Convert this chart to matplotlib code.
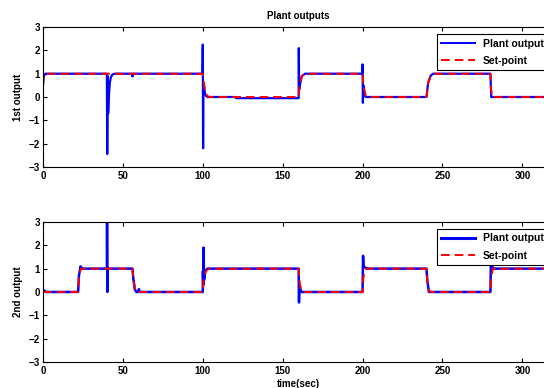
import matplotlib
matplotlib.use("Agg")
import matplotlib.pyplot as plt

# ---- data (breakpoints of each trace) ----
# 1st output: set-point
sp1_t = [0, 0.5, 1.5, 100, 100.5, 101.5, 103, 105, 160, 160.5, 162, 164,
         200, 200.5, 202, 203, 240, 241, 242.5, 244, 280, 280.5, 281, 320]
sp1_v = [0.5, 0.9, 1.0, 1.0, 0.7, 0.2, 0.03, 0.0, 0.0, 0.5, 0.9, 1.0,
         1.0, 0.5, 0.05, 0.0, 0.0, 0.6, 0.9, 1.0, 1.0, 0.3, 0.0, 0.0]

# 1st output: plant output
y1_t = [0, 0.5, 1.5, 40, 40.2, 40.5, 40.8, 41.2, 41.8, 42.5, 43.5, 45,
        55.7, 56, 56.4, 99.8, 100, 100.2, 100.4, 100.8, 101.2, 102, 103,
        120, 121, 160, 160.1, 160.3, 161, 162, 164, 199.8, 200, 200.2,
        200.5, 201, 202, 240, 241, 242.5, 244, 280, 280.5, 320]
y1_v = [0.5, 0.9, 1.0, 1.0, -2.45, 0.9, -0.7, 0.0, 0.6, 0.85, 0.97, 1.0,
        1.0, 0.88, 1.0, 1.0, 2.25, -2.2, 0.6, 0.5, 0.2, 0.05, 0.0,
        0.0, -0.05, -0.05, 2.1, 0.3, 0.6, 0.9, 1.0, 1.0, 1.4, -0.25,
        0.5, 0.1, 0.0, 0.0, 0.6, 0.9, 1.0, 1.0, 0.0, 0.0]

# 2nd output: set-point
sp2_t = [0, 22, 22.5, 23.5, 24.5, 56, 56.5, 57.5, 58.5, 100, 100.5, 102, 104,
         160, 160.5, 161.5, 162.5, 200, 200.5, 201.5, 202.5, 240, 240.5,
         241.5, 242.5, 280, 280.5, 281.5, 320]
sp2_v = [0.0, 0.0, 0.6, 0.95, 1.0, 1.0, 0.6, 0.1, 0.0, 0.0, 0.5, 0.9, 1.0,
         1.0, 0.5, 0.05, 0.0, 0.0, 0.6, 0.95, 1.0, 1.0, 0.5,
         0.05, 0.0, 0.0, 0.6, 1.0, 1.0]

# 2nd output: plant output
y2_t = [0, 1, 2, 22, 22.5, 23.5, 24.5, 40, 40.1, 40.3, 40.5, 56, 56.5, 57.5,
        58.5, 59.5, 60, 60.5, 100, 100.1, 100.3, 100.5, 100.8, 101.5, 103,
        160, 160.2, 160.5, 161.5, 200, 200.3, 200.6, 201.5, 203, 240, 240.5,
        241.5, 280, 280.3, 281, 282, 320]
y2_v = [0.1, 0.05, 0.0, 0.0, 0.7, 1.1, 1.0, 1.0, 3.2, 0.0, 1.0, 1.0, 0.6, 0.1,
        0.0, 0.0, 0.12, 0.0, 0.0, 0.9, 0.3, 1.9, 0.5, 0.9, 1.0,
        1.0, -0.45, 0.3, 0.0, 0.0, 1.55, 1.1, 1.05, 1.0, 1.0, 0.5,
        0.0, 0.0, 1.3, 1.1, 1.0, 1.0]

x_ticks = [0, 50, 100, 150, 200, 250, 300]
y_ticks = [-3, -2, -1, 0, 1, 2, 3]

plt.rcParams['font.family'] = ['Liberation Sans', 'DejaVu Sans']
plt.rcParams['font.weight'] = 'bold'
plt.rcParams['font.size'] = 7

fig = plt.figure(figsize=(5.44, 3.88), dpi=100)
# right edge runs slightly past the canvas, as in the cropped original
ax1 = fig.add_axes([0.079, 0.570, 0.940, 0.360])
ax2 = fig.add_axes([0.079, 0.067, 0.940, 0.361])

panels = [
    (ax1, y1_t, y1_v, sp1_t, sp1_v, '1st output', 1.6, 1.4),
    (ax2, y2_t, y2_v, sp2_t, sp2_v, '2nd output', 1.8, 2.2),
]

for ax, yt, yv, st, sv, ylab, lw, leg_lw in panels:
    ax.plot(yt, yv, color='#0000ff', linewidth=lw, label='Plant output')
    ax.plot(st, sv, color='#ff0000', linestyle='--', dashes=(4.5, 2.5),
            linewidth=1.4, label='Set-point')
    ax.set_xlim(0, 320)
    ax.set_ylim(-3, 3)
    ax.set_xticks(x_ticks)
    ax.set_yticks(y_ticks)
    ax.tick_params(direction='in', top=True, right=True, length=3,
                   width=0.8, labelsize=7)
    ax.tick_params(axis='x', pad=3)
    ax.tick_params(axis='y', pad=2)
    for s in ax.spines.values():
        s.set_linewidth(0.8)
    ax.set_ylabel(ylab, fontweight='bold', labelpad=4)
    leg = ax.legend(loc='upper right', bbox_to_anchor=(0.998, 0.985),
                    fancybox=False, framealpha=1, edgecolor='black',
                    handlelength=3.2, labelspacing=0.7, borderpad=0.4,
                    prop={'weight': 'bold', 'size': 7.5})
    leg.get_frame().set_linewidth(0.8)
    leg.get_lines()[0].set_linewidth(leg_lw)

ax1.set_title('Plant outputs', fontweight='bold', fontsize=7, pad=6)
ax2.set_xlabel('time(sec)', fontweight='bold', labelpad=2)

fig.savefig('out.png', dpi=100)
